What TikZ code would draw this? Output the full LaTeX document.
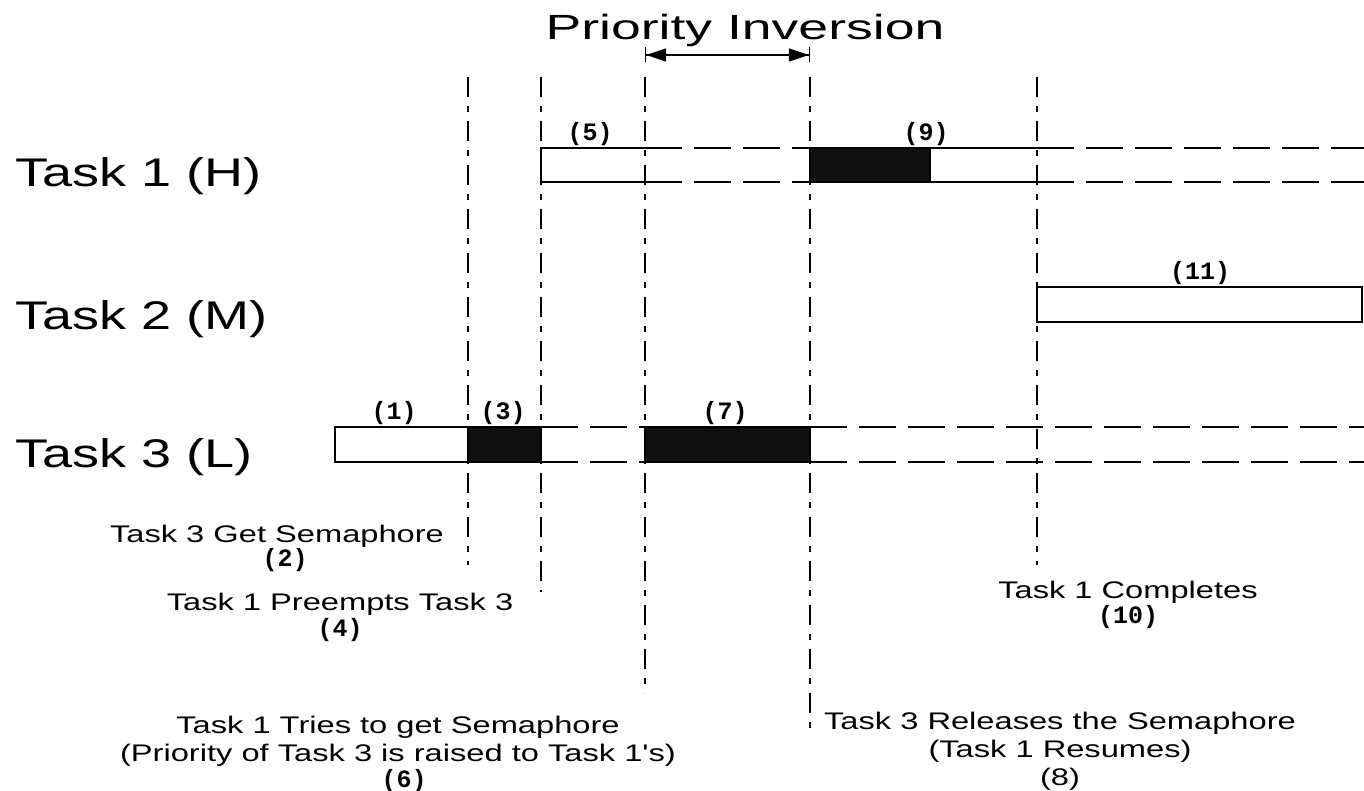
\documentclass[tikz,border=0pt]{standalone}
\usepackage{fontspec}
\setmainfont{Liberation Sans}
\newfontfamily\numfont{Liberation Mono}
\usepackage{tikz}
\usetikzlibrary{arrows.meta,positioning}

\begin{document}
\begin{tikzpicture}[x=1pt, y=-1pt,
     event/.style = {line width=1.5pt, dash pattern=on 20pt off 9pt on 6pt off 9pt},
     run/.style = {draw, line width=1.6pt},
     wait/.style = {line width=1.6pt, dash pattern=on 37pt off 12pt},
     crit/.style = {draw, line width=1.6pt, fill=black!94},
     task/.style = {font=\fontsize{40}{44}\selectfont, xscale=1.35, inner sep=0pt, anchor=base west},
     txt/.style = {font=\fontsize{24}{28}\selectfont, xscale=1.36, inner sep=0pt, align=center},
     num/.style = {font=\numfont\bfseries\fontsize{25}{28}\selectfont, inner sep=0pt}]
     \useasboundingbox (0,0) rectangle (1364,791);

     \node[font=\fontsize{35}{40}\selectfont, xscale=1.53, inner sep=0pt, anchor=base] (title) at (745,40) {Priority Inversion};
     \coordinate (pi start) at (645,55);
     \coordinate (pi end) at (810,55);
     \draw[line width=1.2pt, {Bar[width=15pt]Triangle[length=20pt,width=13pt]}-{Triangle[length=20pt,width=13pt]Bar[width=15pt]}] (pi start) -- (pi end);

     \node[task] (task1) at (15,187) {Task 1 (H)};
     \node[task] (task2) at (15,330) {Task 2 (M)};
     \node[task] (task3) at (15,467) {Task 3 (L)};

     \foreach \name/\x/\y in {get/468/565, preempt/541/592, tries/645/693, release/810/735, done/1037/565}
         {\coordinate (\name top) at (\x,77);
          \coordinate (\name) at (\x,\y);
          \draw[event] (\name top) -- (\name);}

     % Task 3 (L)
     \draw[run] (335,427) rectangle (468,462);
     \draw[crit] (468,427) rectangle (541,462);
     \draw[wait] (541,427) -- (645,427) (541,462) -- (645,462);
     \draw[crit] (645,427) rectangle (810,462);
     \draw[wait] (810,427) -- (1364,427) (810,462) -- (1364,462);

     % Task 1 (H)
     \draw[run] (645,148) -- (541,148) -- (541,182) -- (645,182);
     \draw[wait] (645,148) -- (810,148) (645,182) -- (810,182);
     \draw[crit] (810,148) rectangle (930,182);
     \draw[run] (930,148) -- (1037,148) (930,182) -- (1037,182);
     \draw[wait] (1037,148) -- (1364,148) (1037,182) -- (1364,182);

     % Task 2 (M)
     \draw[run] (1037,287) rectangle (1362,322);

     \node[num, anchor=south] (n1) at (394,425) {(1)};
     \node[num, anchor=south] (n3) at (503,425) {(3)};
     \node[num, anchor=south] (n5) at (590,146) {(5)};
     \node[num, anchor=south] (n7) at (725,425) {(7)};
     \node[num, anchor=south] (n9) at (926,146) {(9)};
     \node[num, anchor=south] (n11) at (1200,285) {(11)};

     \node[txt, anchor=base] (got) at (277,542) {Task 3 Get Semaphore};
     \node[num, below=1pt of got, xshift=8pt] (n2) {(2)};
     \node[txt, anchor=base] (preempts) at (340,610) {Task 1 Preempts Task 3};
     \node[num, below=3pt of preempts] (n4) {(4)};
     \node[txt, anchor=base] (completes) at (1128,598) {Task 1 Completes};
     \node[num, below=2pt of completes] (n10) {(10)};
     \node[txt, anchor=north] (tried) at (398,716) {Task 1 Tries to get Semaphore\\(Priority of Task 3 is raised to Task 1\textquotesingle s)};
     \node[num, below=2pt of tried, xshift=6pt] (n6) {(6)};
     \node[txt, anchor=north] (released) at (1060,712) {Task 3 Releases the Semaphore\\(Task 1 Resumes)\\(8)};
\end{tikzpicture}
\end{document}
